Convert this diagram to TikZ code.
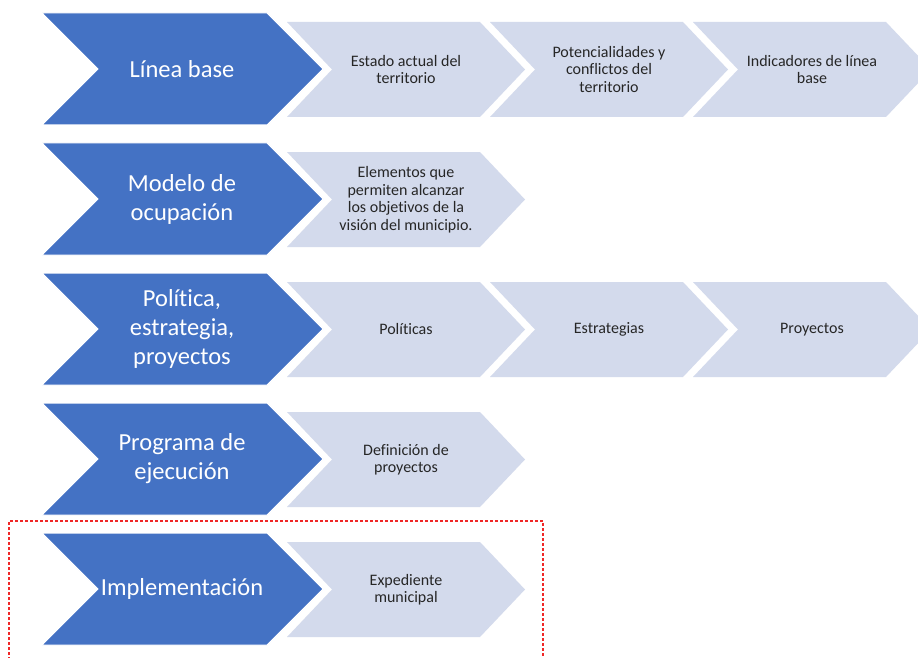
\documentclass[tikz,border=0pt]{standalone}
\usepackage{fontspec}
\setmainfont[Ligatures=NoCommon]{Carlito}
\definecolor{chevblue}{HTML}{4472C4}
\definecolor{chevlight}{HTML}{D3DAEC}
\definecolor{txtdark}{HTML}{262626}
\definecolor{dashred}{RGB}{240,40,40}
\tikzset{
  bluefill/.style={fill=chevblue, draw=white, line width=1pt, line join=miter},
  lightfill/.style={fill=chevlight},
  bluetext/.style={text=white, align=center, font=\fontsize{24.5}{29}\selectfont, inner sep=0pt},
  lighttext/.style={text=txtdark, align=center, font=\fontsize{16}{17.5}\selectfont, inner sep=0pt},
  redframe/.style={color=dashred, line width=1.3pt, dash pattern=on 3pt off 2pt}
}
% blue chevron: name, top y, text
\newcommand\bluechev[3]{%
  \begin{scope}[shift={(0,-#2)}]
    \path[bluefill] (42,0) -- (267,0) -- (323,-56) -- (267,-112) -- (42,-112) -- (98,-56) -- cycle;
    \node[bluetext] (#1) at (182,-56) {#3};
  \end{scope}}
% light chevron: name, left x, top y, text
\newcommand\lightchev[4]{%
  \begin{scope}[shift={(#2,-#3)}]
    \path[lightfill] (0,0) -- (193,0) -- (238,-47.5) -- (193,-95) -- (0,-95) -- (45,-47.5) -- cycle;
    \node[lighttext] (#1) at (119,-47.5) {#4};
  \end{scope}}
\begin{document}
\begin{tikzpicture}[x=1pt,y=1pt]
\useasboundingbox (0,0) rectangle (918,-658);
\clip (0,0) rectangle (918,-658);
\fill[white] (0,0) rectangle (918,-658);
% row 1
\bluechev{b1}{13}{Línea base}
\lightchev{l11}{287}{22}{Estado actual del\\territorio}
\lightchev{l12}{490}{22}{Potencialidades y\\conflictos del\\territorio}
\lightchev{l13}{693}{22}{Indicadores de línea\\base}
% row 2
\bluechev{b2}{143}{Modelo de\\ocupación}
\lightchev{l21}{287}{152}{Elementos que\\permiten alcanzar\\los objetivos de la\\visión del municipio.}
% row 3
\bluechev{b3}{273}{Política,\\estrategia,\\proyectos}
\lightchev{l31}{287}{282}{Políticas}
\lightchev{l32}{490}{282}{Estrategias}
\lightchev{l33}{693}{282}{Proyectos}
% row 4
\bluechev{b4}{403}{Programa de\\ejecución}
\lightchev{l41}{287}{412}{Definición de\\proyectos}
% row 5
\bluechev{b5}{533}{Implementación}
\lightchev{l51}{287}{542}{Expediente\\municipal}
% red dashed frame
\coordinate (f1) at (9,-660);
\coordinate (f2) at (9,-521);
\coordinate (f3) at (543,-521);
\coordinate (f4) at (543,-660);
\draw[redframe] (f1) -- (f2) -- (f3) -- (f4);
\end{tikzpicture}
\end{document}
